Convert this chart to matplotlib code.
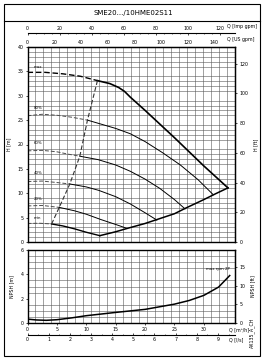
import numpy as np
import matplotlib.pyplot as plt
from matplotlib.patches import Rectangle
from matplotlib.lines import Line2D

# --- dane (Q w m3/h, H w m) ---
curve_names = ['max', '80%', '60%', '40%', '20%', 'min']
label_h = [35.9, 27.5, 20.3, 14.2, 8.8, 5.0]

q_dash = [
    [0, 3, 6, 9, 11.9],
    [0, 2.5, 5, 7.5, 10.2],
    [0, 2.5, 5, 7, 8.9],
    [0, 2.5, 5, 7.2],
    [0, 2.5, 5.4],
    [0, 2, 4.1],
]
h_dash = [
    [34.8, 34.8, 34.5, 34.0, 33.1],
    [25.9, 26.2, 26.0, 25.6, 25.0],
    [18.7, 18.8, 18.5, 18.0, 17.6],
    [12.4, 12.5, 12.2, 11.9],
    [7.4, 7.5, 7.1],
    [3.8, 3.85, 3.7],
]
q_solid = [
    [11.9, 14, 15.5, 16.5, 17.5, 20, 25, 30, 34.1],
    [10.2, 15, 17.5, 20, 23, 26, 29, 31.6],
    [8.9, 12, 15, 17.5, 20, 22.5, 25, 26.8],
    [7.2, 10, 12.1, 15, 17.5, 20, 22],
    [5.4, 8, 10, 12.5, 15, 16.9],
    [4.1, 6, 8, 10, 12.3],
]
h_solid = [
    [33.1, 32.5, 31.7, 30.9, 29.7, 27.0, 21.4, 15.6, 11.1],
    [25.0, 23.3, 22.2, 20.6, 18.3, 15.8, 12.8, 9.7],
    [17.6, 16.9, 15.8, 14.5, 12.9, 11.0, 8.7, 6.8],
    [11.9, 11.3, 10.6, 9.3, 7.8, 6.0, 4.5],
    [7.1, 6.4, 5.7, 4.6, 3.6, 2.8],
    [3.7, 3.3, 2.7, 2.0, 1.3],
]

# granica przeplywu maksymalnego
q_bound = [12.3, 15, 17, 20, 22, 25, 27, 30, 32, 34.1]
h_bound = [1.3, 2.1, 2.8, 3.8, 4.6, 5.8, 7.0, 8.7, 9.9, 11.1]

# granica przeplywu minimalnego (linia przerywana)
q_minflow = [4.1, 5.4, 7.2, 8.9, 10.2, 11.9]
h_minflow = [3.7, 7.1, 11.9, 17.6, 25.0, 33.1]

# NPSH
q_npsh = [0, 1.5, 3.2, 5, 7.5, 10, 15, 20, 25, 27.5, 30, 32.5, 34.4]
npsh = [0.32, 0.25, 0.22, 0.27, 0.42, 0.6, 0.87, 1.12, 1.55, 1.85, 2.27, 2.95, 3.9]

title = 'SME20.../10HME02S11'
QMAX = 35.3

W, H = 268, 361
fig = plt.figure(figsize=(W / 100, H / 100), dpi=100)
fs = 3.4


def fx(px):
    return px / W


def fy(py):
    return 1 - py / H


# ramka zewnetrzna i tytul
fig.patches.append(Rectangle((fx(4), fy(356)), fx(256), fy(4) - fy(356),
                             transform=fig.transFigure, fill=False, lw=0.8, color='k'))
fig.lines.append(Line2D([fx(4), fx(260)], [fy(21), fy(21)], transform=fig.transFigure,
                        lw=0.8, color='k'))
fig.text(fx(133), fy(13), title, fontsize=5, ha='center', va='center')

ax = fig.add_axes([fx(27.5), fy(242), fx(207.5), fy(47) - fy(242)])
ax2 = fig.add_axes([fx(27.5), fy(323), fx(207.5), fy(250) - fy(323)])

grid_x = np.linspace(0, QMAX, 27)
for a in (ax, ax2):
    a.set_xlim(0, QMAX)
    a.set_xticks(grid_x, minor=True)
    a.grid(which='minor', color='0.35', lw=0.4)
    a.tick_params(which='minor', length=0)
    a.tick_params(which='major', labelsize=fs, length=1.5, width=0.5, pad=1.5)
    for s in a.spines.values():
        s.set_linewidth(1.0)

# wykres glowny
ax.set_ylim(0, 40)
ax.set_yticks(np.arange(0, 41, 5))
ax.set_yticks(np.arange(0, 41, 1), minor=True)
ax.set_xticks([])
for i, name in enumerate(curve_names):
    if i == 0:
        ax.plot(q_dash[i], h_dash[i], color='k', lw=1.0, ls=(0, (4, 2)))
        ax.plot(q_solid[i], h_solid[i], color='k', lw=1.2)
    else:
        ax.plot(q_dash[i], h_dash[i], color='0.3', lw=0.7, ls=(0, (4, 2)))
        ax.plot(q_solid[i], h_solid[i], color='k', lw=0.7 if i < 5 else 1.0)
    ax.text(1.0, label_h[i], name, fontsize=2.8, va='center')
ax.plot(q_bound, h_bound, color='k', lw=1.1)
ax.plot(q_minflow, h_minflow, color='0.2', lw=0.8, ls=(0, (4, 2)))
ax.set_ylabel('H [m]', fontsize=fs, labelpad=4)

m_ft = 3.28084
axr = ax.secondary_yaxis('right', functions=(lambda h: h * m_ft, lambda f: f / m_ft))
axr.set_yticks(np.arange(0, 121, 20))
axr.tick_params(labelsize=fs, length=1.5, width=0.5, pad=2)
axr.set_ylabel('H [ft]', fontsize=fs, labelpad=3)

us = 0.22712
imp = 0.27277
axt = ax.secondary_xaxis('top', functions=(lambda q: q / us, lambda g: g * us))
axt.set_xticks(np.arange(0, 141, 20))
axt.tick_params(labelsize=fs, length=0, pad=1.5)
ax.text(34.0, 1.025, 'Q [US gpm]', transform=ax.get_xaxis_transform(),
        fontsize=fs, ha='left', va='bottom')

axi = ax.secondary_xaxis(1.072, functions=(lambda q: q / imp, lambda g: g * imp))
axi.set_xticks(np.arange(0, 121, 20))
axi.set_xticks(np.arange(0, 125, 5), minor=True)
axi.tick_params(labelsize=fs, length=1.5, width=0.5, direction='in', pad=1.5)
axi.tick_params(which='minor', length=1.0, width=0.4, direction='in')
axi.spines['top'].set_linewidth(0.8)
ax.text(34.0, 1.09, 'Q [Imp gpm]', transform=ax.get_xaxis_transform(),
        fontsize=fs, ha='left', va='bottom')

# NPSH
ax2.set_ylim(0, 6)
ax2.set_yticks(np.arange(0, 7, 2))
ax2.set_yticks(np.arange(0, 6.1, 0.5), minor=True)
ax2.set_xticks(np.arange(0, 31, 5))
ax2.plot(q_npsh, npsh, color='k', lw=1.1)
ax2.set_ylabel('NPSH [m]', fontsize=fs, labelpad=4)
ax2.text(34.4, 4.3, 'max rpm 2P', fontsize=2.8, ha='right', va='bottom')
ax2.text(34.2, -0.06, 'Q [m³/h]', transform=ax2.get_xaxis_transform(),
         fontsize=fs, ha='left', va='top')

axr2 = ax2.secondary_yaxis('right', functions=(lambda h: h * m_ft, lambda f: f / m_ft))
axr2.set_yticks(np.arange(0, 16, 5))
axr2.tick_params(labelsize=fs, length=1.5, width=0.5, pad=2)
axr2.set_ylabel('NPSH [ft]', fontsize=fs, labelpad=3)

axl = ax2.secondary_xaxis(-0.164, functions=(lambda q: q / 3.6, lambda l: l * 3.6))
axl.set_xticks(np.arange(0, 10, 1))
axl.set_xticks(np.arange(0, 9.8, 0.5), minor=True)
axl.tick_params(labelsize=fs, length=1.5, width=0.5, direction='in', pad=1.5)
axl.tick_params(which='minor', length=1.0, width=0.4, direction='in')
axl.spines['bottom'].set_linewidth(0.8)
ax2.text(34.2, -0.19, 'Q [l/s]', transform=ax2.get_xaxis_transform(),
         fontsize=fs, ha='left', va='top')

fig.text(fx(252), fy(333), 'AX135_A_CH', fontsize=fs, rotation=90, ha='center', va='center')

fig.savefig('out.png', dpi=100)
